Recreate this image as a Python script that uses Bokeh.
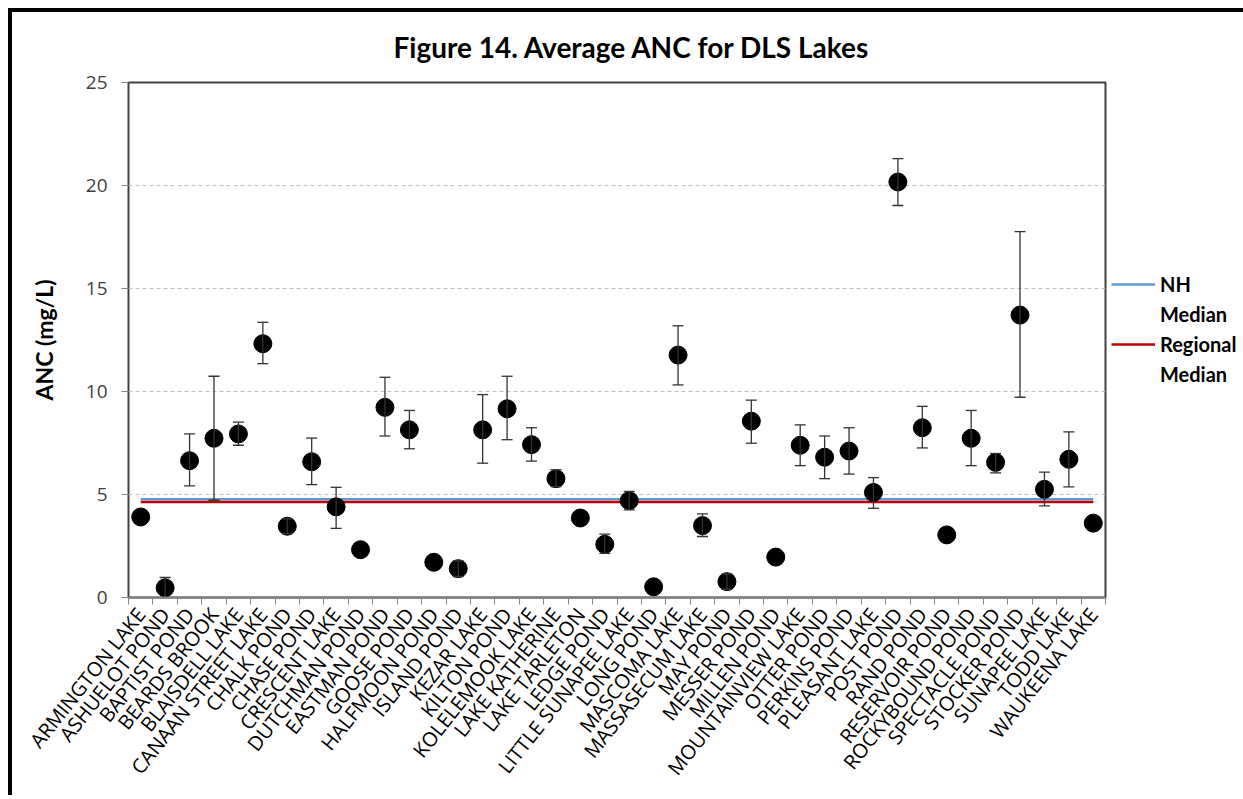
import math
import numpy as np
from bokeh.plotting import figure
from bokeh.models import (ColumnDataSource, Whisker, TeeHead, FixedTicker, Range1d,
                          Legend, LegendItem)
from bokeh.layouts import column
from bokeh.embed import file_html
from bokeh.resources import INLINE

lakes = ["ARMINGTON LAKE", "ASHUELOT POND", "BAPTIST POND", "BEARDS BROOK", "BLAISDELL LAKE",
         "CANAAN STREET LAKE", "CHALK POND", "CHASE POND", "CRESCENT LAKE", "DUTCHMAN POND",
         "EASTMAN POND", "GOOSE POND", "HALFMOON POND", "ISLAND POND", "KEZAR LAKE",
         "KILTON POND", "KOLELEMOOK LAKE", "LAKE KATHERINE", "LAKE TARLETON", "LEDGE POND",
         "LITTLE SUNAPEE LAKE", "LONG POND", "MASCOMA LAKE", "MASSASECUM LAKE", "MAY POND",
         "MESSER POND", "MILLEN POND", "MOUNTAINVIEW LAKE", "OTTER POND", "PERKINS POND",
         "PLEASANT LAKE", "POST POND", "RAND POND", "RESERVOIR POND", "ROCKYBOUND POND",
         "SPECTACLE POND", "STOCKER POND", "SUNAPEE LAKE", "TODD LAKE", "WAUKEENA LAKE"]

anc_mean = [3.91, 0.47, 6.64, 7.73, 7.94, 12.32, 3.46, 6.59, 4.40, 2.32,
            9.23, 8.14, 1.71, 1.40, 8.14, 9.16, 7.42, 5.77, 3.86, 2.58,
            4.70, 0.52, 11.77, 3.49, 0.77, 8.56, 1.96, 7.39, 6.81, 7.11,
            5.10, 20.17, 8.24, 3.04, 7.73, 6.56, 13.71, 5.25, 6.71, 3.61]

nan = float("nan")
err_upper = [nan, 0.97, 7.94, 10.74, 8.51, 13.36, 3.82, 7.74, 5.35, nan,
             10.69, 9.08, nan, 1.78, 9.85, 10.74, 8.24, 6.20, nan, 3.08,
             5.15, nan, 13.19, 4.06, 1.14, 9.58, nan, 8.38, 7.84, 8.24,
             5.82, 21.30, 9.28, nan, 9.08, 6.99, 17.76, 6.09, 8.04, nan]
err_lower = [nan, -0.03, 5.42, 4.72, 7.39, 11.35, 3.10, 5.48, 3.36, nan,
             7.84, 7.22, nan, 1.02, 6.52, 7.66, 6.62, 5.38, nan, 2.14,
             4.25, nan, 10.32, 2.96, 0.40, 7.49, nan, 6.40, 5.77, 5.99,
             4.33, 19.03, 7.26, nan, 6.40, 6.05, 9.72, 4.45, 5.37, nan]

nh_median = 4.77
regional_median = 4.63

y_ticks = [0, 5, 10, 15, 20, 25]

n = len(lakes)
xs = list(range(1, n + 1))

src = ColumnDataSource(data=dict(x=xs, y=anc_mean,
                                 upper=np.array(err_upper, dtype=float),
                                 lower=np.array(err_lower, dtype=float)))

p = figure(frame_width=977, frame_height=515,
           min_border_left=120, min_border_top=74, min_border_right=100, min_border_bottom=198,
           x_range=Range1d(0.5, n + 0.5), y_range=Range1d(0, 25),
           output_backend="svg", toolbar_location=None,
           title="Figure 14. Average ANC for DLS Lakes")

p.title.align = "left"
p.title.offset = 265
p.title.standoff = 38
p.title.text_font = "Lato"
p.title.text_font_style = "bold"
p.title.text_font_size = "28px"
p.title.text_color = "#000000"

p.outline_line_color = "#404040"
p.outline_line_width = 2
p.background_fill_color = "white"
p.border_fill_alpha = 0

# grid
p.xgrid.grid_line_color = None
p.ygrid.grid_line_color = "#bfbfbf"
p.ygrid.grid_line_dash = "4 3"
p.ygrid.grid_line_width = 1

# y axis
p.yaxis.ticker = FixedTicker(ticks=y_ticks)
p.yaxis.axis_label = "ANC (mg/L)"
p.yaxis.axis_label_text_font = "Lato"
p.yaxis.axis_label_text_font_style = "bold"
p.yaxis.axis_label_text_font_size = "23px"
p.yaxis.axis_label_text_color = "#000000"
p.yaxis.axis_label_standoff = 25
p.yaxis.major_label_text_font = "Open Sans"
p.yaxis.major_label_text_font_size = "19px"
p.yaxis.major_label_text_color = "#404040"
p.yaxis.major_label_standoff = 14
p.yaxis.major_tick_out = 7
p.yaxis.major_tick_in = 0
p.yaxis.major_tick_line_color = "#868686"
p.yaxis.minor_tick_line_color = None
p.yaxis.axis_line_color = None

# x axis
p.xaxis.ticker = FixedTicker(ticks=xs, minor_ticks=[x - 0.5 for x in xs] + [xs[-1] + 0.5])
p.xaxis.major_label_overrides = {x: name for x, name in zip(xs, lakes)}
p.xaxis.major_label_orientation = 0.9
p.xaxis.major_label_text_font = "Open Sans"
p.xaxis.major_label_text_font_size = "20px"
p.xaxis.major_label_text_color = "#000000"
p.xaxis.major_label_standoff = 6
p.xaxis.major_tick_out = 0
p.xaxis.major_tick_in = 0
p.xaxis.minor_tick_out = 7
p.xaxis.minor_tick_in = 0
p.xaxis.minor_tick_line_color = "#868686"
p.xaxis.axis_line_color = "#808080"
p.xaxis.axis_line_width = 2

# median lines
r_nh = p.line(x=[xs[0], xs[-1]], y=[nh_median, nh_median], line_color="#5b9bd5", line_width=2.5)
r_reg = p.line(x=[xs[0], xs[-1]], y=[regional_median, regional_median], line_color="#c00000", line_width=2.5)
r_blank = p.line(x=[xs[0], xs[-1]], y=[nh_median, nh_median], line_alpha=0)

# error bars
wh = Whisker(source=src, base="x", upper="upper", lower="lower", dimension="height",
             line_color="#333333", line_width=1.3,
             upper_head=TeeHead(size=11, line_color="#333333", line_width=1.3),
             lower_head=TeeHead(size=11, line_color="#333333", line_width=1.3),
             level="glyph")
p.add_layout(wh)

p.scatter(x="x", y="y", source=src, size=18, fill_color="black", line_color="black")

legend = Legend(items=[LegendItem(label="NH", renderers=[r_nh]),
                       LegendItem(label="Median", renderers=[r_blank]),
                       LegendItem(label="Regional", renderers=[r_reg]),
                       LegendItem(label="Median", renderers=[r_blank])],
                location=(6, 211), border_line_color=None, background_fill_alpha=0,
                label_text_font="Lato", label_text_font_style="bold",
                label_text_font_size="20px", label_text_color="#000000",
                glyph_width=44, glyph_height=20, label_height=20, spacing=6,
                margin=3, padding=4, label_standoff=5)
p.add_layout(legend, "right")

layout = column(p, styles={"margin-left": "8px", "margin-top": "8px",
                           "background-color": "white",
                           "box-shadow": "inset 4px 4px 0 0 black"})

open("out.html", "w").write(file_html(layout, INLINE))
